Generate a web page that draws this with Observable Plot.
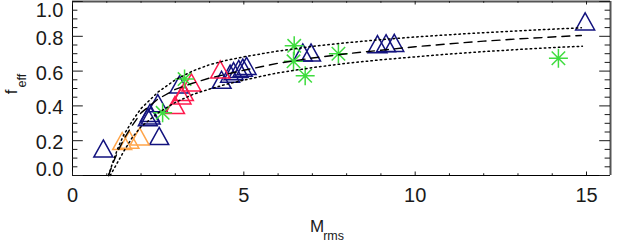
<!DOCTYPE html>
<html><head><meta charset="utf-8">
<script src="https://cdn.jsdelivr.net/npm/d3@7"></script>
<script src="https://cdn.jsdelivr.net/npm/@observablehq/plot@0.6"></script>
<style>body{margin:0;background:#fff} svg{display:block}</style>
</head><body><div id="chart"></div>
<script>
// ---- data ----
const blueM = [0.90, 2.53, 2.20, 2.28, 2.26, 2.49, 3.12, 4.35, 4.60, 4.70, 4.85, 4.97, 5.08, 6.72, 6.96, 8.90, 9.15, 9.39, 14.96];
const blueF = [0.155, 0.227, 0.335, 0.345, 0.36, 0.416, 0.523, 0.55, 0.585, 0.60, 0.612, 0.62, 0.63, 0.707, 0.707, 0.755, 0.76, 0.762, 0.886];
const orangeM = [1.45, 1.66, 1.96];
const orangeF = [0.198, 0.206, 0.224];
const redM = [2.99, 3.18, 3.25, 3.47, 4.31];
const redF = [0.405, 0.46, 0.48, 0.535, 0.61];
const greenM = [2.63, 3.27, 6.47, 6.45, 6.79, 7.76, 14.18];
const greenF = [0.36, 0.554, 0.745, 0.656, 0.573, 0.70, 0.674];

const fitM = [1.05, 1.2, 1.35, 1.5, 1.75, 2.0, 2.5, 3.0, 3.5, 4.0, 5.0, 5.5, 6.0, 7.0, 8.0, 9.0, 10.0, 11.0, 12.0, 13.0, 14.0, 14.85];
const fitF = [0.0, 0.08, 0.15, 0.21, 0.29, 0.36, 0.44, 0.495, 0.53, 0.56, 0.605, 0.625, 0.645, 0.675, 0.70, 0.72, 0.74, 0.757, 0.772, 0.785, 0.796, 0.805];
const upM = [1.05, 1.2, 1.35, 1.5, 1.75, 2.0, 2.5, 3.0, 3.5, 4.0, 4.5, 5.0, 5.5, 6.0, 7.0, 8.0, 9.0, 10.0, 11.0, 12.0, 13.0, 14.0, 14.85];
const upF = [0.0, 0.09, 0.17, 0.235, 0.315, 0.385, 0.48, 0.55, 0.6, 0.637, 0.662, 0.682, 0.699, 0.715, 0.742, 0.763, 0.781, 0.796, 0.809, 0.821, 0.831, 0.841, 0.849];
const loM = [1.1, 1.3, 1.5, 1.75, 2.0, 2.5, 3.0, 3.5, 4.0, 4.5, 5.0, 5.5, 6.0, 7.0, 8.0, 9.0, 10.0, 11.0, 12.0, 13.0, 14.0, 14.88];
const loF = [0.0, 0.07, 0.14, 0.22, 0.28, 0.36, 0.42, 0.465, 0.497, 0.525, 0.548, 0.57, 0.59, 0.62, 0.645, 0.665, 0.682, 0.698, 0.712, 0.724, 0.735, 0.743];

const xMajor = [0, 5, 10, 15];
const xMinor = [1, 2, 3, 4, 6, 7, 8, 9, 11, 12, 13, 14];
const xLabels = ["0", "5", "10", "15"];
const yMajor = [0, 0.2, 0.4, 0.6, 0.8, 1.0];
const yMinor = [0.05, 0.1, 0.15, 0.25, 0.3, 0.35, 0.45, 0.5, 0.55, 0.65, 0.7, 0.75, 0.85, 0.9, 0.95];
const yLabelsMid = [0.2, 0.4, 0.6, 0.8];
const yLabelTop = [1.0];
const yLabelBottom = [0.0];

// ---- helpers ----
const zip = (a, b) => a.map((m, i) => ({m, f: b[i]}));
const tri = {draw(ctx, size) { const s = Math.sqrt(size / Math.PI);
  ctx.moveTo(0, -s * 0.9); ctx.lineTo(s, s * 0.9); ctx.lineTo(-s, s * 0.9); ctx.closePath(); }};
const ast = {draw(ctx, size) { const s = Math.sqrt(size / Math.PI); const d = s * Math.SQRT1_2;
  ctx.moveTo(-s, 0); ctx.lineTo(s, 0); ctx.moveTo(0, -s); ctx.lineTo(0, s);
  ctx.moveTo(-d, -d); ctx.lineTo(d, d); ctx.moveTo(-d, d); ctx.lineTo(d, -d); }};

const W = 621, H = 242, mL = 72, mR = 11, mT = 1, mB = 67;
const fw = W - mL - mR, fh = H - mT - mB;
const font = "'Liberation Sans', Arial, Helvetica, sans-serif";
const ink = "#1a1a1a";

const chart = Plot.plot({
  width: W, height: H,
  marginLeft: mL, marginRight: mR, marginTop: mT, marginBottom: mB,
  x: {domain: [0, 15.7], axis: null},
  y: {domain: [0, 1], axis: null},
  style: {fontFamily: font, background: "#fff"},
  marks: [
    Plot.dot(zip(blueM, blueF), {x: "m", y: "f", r: 9.5, symbol: tri, stroke: "#12127e", strokeWidth: 1.5, fill: "none"}),
    Plot.dot(zip(orangeM, orangeF), {x: "m", y: "f", r: 9.5, symbol: tri, stroke: "#ffa54a", strokeWidth: 1.5, fill: "none"}),
    Plot.dot(zip(redM, redF), {x: "m", y: "f", r: 9.5, symbol: tri, stroke: "#ff1a4d", strokeWidth: 1.5, fill: "none"}),
    Plot.dot(zip(greenM, greenF), {x: "m", y: "f", r: 9.5, symbol: ast, stroke: "#3fdc3f", strokeWidth: 1.5, fill: "none"}),
    Plot.line(zip(fitM, fitF), {x: "m", y: "f", stroke: "#000", strokeWidth: 1.4, strokeDasharray: "8,6"}),
    Plot.line(zip(upM, upF), {x: "m", y: "f", stroke: "#000", strokeWidth: 1.5, strokeDasharray: "1.5,3.2"}),
    Plot.line(zip(loM, loF), {x: "m", y: "f", stroke: "#000", strokeWidth: 1.5, strokeDasharray: "1.5,3.2"}),
    // frame
    Plot.ruleX([0], {stroke: "#000", strokeWidth: 1}),
    Plot.ruleY([0], {stroke: "#000", strokeWidth: 1}),
    Plot.ruleX([15.7], {stroke: "#555", strokeWidth: 2}),
    Plot.ruleY([1], {stroke: "#555", strokeWidth: 2}),
    // y ticks left & right
    Plot.tickY(yMajor, {y: d => d, insetRight: fw - 10.8, stroke: ink}),
    Plot.tickY(yMinor, {y: d => d, insetRight: fw - 5.4, stroke: ink}),
    Plot.tickY(yMajor, {y: d => d, insetLeft: fw - 10.8, stroke: ink}),
    Plot.tickY(yMinor, {y: d => d, insetLeft: fw - 5.4, stroke: ink}),
    // x ticks bottom & top
    Plot.tickX(xMajor, {x: d => d, insetTop: fh - 3.5, stroke: ink}),
    Plot.tickX(xMinor, {x: d => d, insetTop: fh - 1.75, stroke: ink}),
    Plot.tickX(xMajor, {x: d => d, insetBottom: fh - 3.5, stroke: ink}),
    Plot.tickX(xMinor, {x: d => d, insetBottom: fh - 1.75, stroke: ink}),
    // tick labels
    Plot.text(xMajor, {x: d => d, text: (d, i) => xLabels[i], frameAnchor: "bottom", lineAnchor: "top", dy: 12, fontSize: 20, fill: ink}),
    Plot.text(yLabelsMid, {y: d => d, text: d => d.toFixed(1), frameAnchor: "left", textAnchor: "end", dx: -9, dy: 2, fontSize: 20, fill: ink}),
    Plot.text(yLabelTop, {y: d => d, text: d => d.toFixed(1), frameAnchor: "left", textAnchor: "end", dx: -9, dy: 9, fontSize: 20, fill: ink}),
    Plot.text(yLabelBottom, {y: d => d, text: d => d.toFixed(1), frameAnchor: "left", textAnchor: "end", dx: -9, dy: -6, fontSize: 20, fill: ink})
  ]
});

// axis titles with subscripts
const svg = d3.select(chart);
const xt = svg.append("text").attr("x", 327).attr("y", 231.5).attr("fill", ink).style("font-family", font);
xt.append("tspan").attr("font-size", 17).text("M");
xt.append("tspan").attr("font-size", 12.5).attr("dy", 8.3).attr("dx", -1).text("rms");
const yt = svg.append("text").attr("transform", "translate(17,84) rotate(-90)").attr("fill", ink).style("font-family", font);
yt.append("tspan").attr("font-size", 17).text("f");
yt.append("tspan").attr("font-size", 12.5).attr("dy", 9).attr("dx", 2).text("eff");

document.getElementById("chart").appendChild(chart);
</script></body></html>
